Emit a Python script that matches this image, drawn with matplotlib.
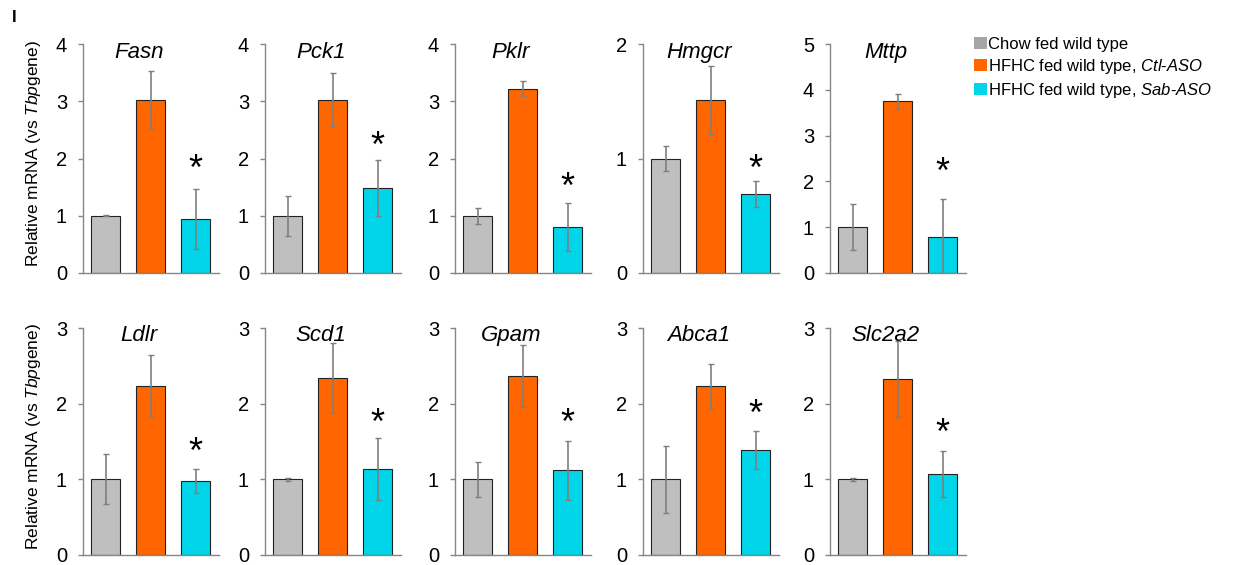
import matplotlib
matplotlib.use('Agg')
import matplotlib.pyplot as plt
from matplotlib.patches import Patch

plt.rcParams['font.family'] = ['Liberation Sans', 'DejaVu Sans']
plt.rcParams['mathtext.fontset'] = 'custom'
plt.rcParams['mathtext.rm'] = 'Liberation Sans'
plt.rcParams['mathtext.it'] = 'Liberation Sans:italic'

# datos (media y error por gen)
genes = ['Fasn', 'Pck1', 'Pklr', 'Hmgcr', 'Mttp', 'Ldlr', 'Scd1', 'Gpam', 'Abca1', 'Slc2a2']
chow_mean = [1.0, 1.0, 1.0, 1.0, 1.0, 1.0, 1.0, 1.0, 1.0, 1.0]
chow_err = [0.01, 0.35, 0.14, 0.11, 0.50, 0.33, 0.02, 0.23, 0.44, 0.02]
ctl_mean = [3.02, 3.03, 3.22, 1.51, 3.75, 2.23, 2.34, 2.37, 2.23, 2.33]
ctl_err = [0.50, 0.47, 0.13, 0.30, 0.16, 0.41, 0.46, 0.41, 0.30, 0.50]
sab_mean = [0.94, 1.48, 0.80, 0.69, 0.79, 0.98, 1.14, 1.12, 1.39, 1.07]
sab_err = [0.52, 0.49, 0.42, 0.11, 0.82, 0.16, 0.41, 0.39, 0.25, 0.30]
ymax = [4, 4, 4, 2, 5, 3, 3, 3, 3, 3]
star_y = [1.97, 2.36, 1.66, 0.985, 2.39, 1.47, 1.86, 1.86, 1.98, 1.72]

groups = ['Chow fed wild type',
          'HFHC fed wild type, $\\it{Ctl}$-$\\it{ASO}$',
          'HFHC fed wild type, $\\it{Sab}$-$\\it{ASO}$']
colors = ['#BFBFBF', '#FF6600', '#00D5EA']
legend_colors = ['#A6A6A6', '#FF6600', '#00D5EA']

W, H = 1233, 565
fig = plt.figure(figsize=(W / 100, H / 100), dpi=100)

col_left = [83, 265, 455, 643, 830]
row_top = [44, 328]
row_bottom = [273, 555]
ax_w = 136
star_fs = 26

for i, gene in enumerate(genes):
    r, c = divmod(i, 5)
    top, bot = row_top[r], row_bottom[r]
    ax = fig.add_axes([col_left[c] / W, 1 - bot / H, ax_w / W, (bot - top) / H])

    means = [chow_mean[i], ctl_mean[i], sab_mean[i]]
    errs = [chow_err[i], ctl_err[i], sab_err[i]]
    ax.bar(range(3), means, width=0.66, color=colors, edgecolor='#222222', linewidth=0.8, zorder=2)
    ax.errorbar(range(3), means, yerr=errs, fmt='none', ecolor='#7F7F7F',
                elinewidth=1.2, capsize=2.5, capthick=1.0, zorder=3)
    # el asterisco de Arial va alto en la linea, se baja para centrarlo en star_y
    ax.annotate('*', (2, star_y[i]), xytext=(0, -0.54 * star_fs), textcoords='offset points',
                ha='center', va='baseline', fontsize=star_fs, zorder=4)

    ax.set_xlim(-0.5, 2.52)
    ax.set_ylim(0, ymax[i])
    ax.set_yticks(range(ymax[i] + 1))
    ax.set_xticks([])
    for s in ['top', 'right']:
        ax.spines[s].set_visible(False)
    for s in ['left', 'bottom']:
        ax.spines[s].set_color('#868686')
        ax.spines[s].set_linewidth(1.0)
    ax.tick_params(axis='y', direction='out', length=3.5, width=1.0, color='#868686',
                   labelsize=14.5, pad=8)
    ax.text(0.41, 0.965, gene, transform=ax.transAxes, ha='center', va='center',
            fontsize=16, style='italic')

    if c == 0:
        ax.set_ylabel('Relative mRNA (vs $\\it{Tbp}$gene)', fontsize=12.5)
        ax.yaxis.set_label_coords(-0.294, 0.52)

handles = [Patch(facecolor=legend_colors[k], edgecolor='none') for k in range(3)]
fig.legend(handles, groups, loc='upper left', bbox_to_anchor=(974 / W, 1 - 37 / H),
           frameon=False, fontsize=12, handlelength=0.75, handleheight=0.75,
           handletextpad=0.1, labelspacing=0.3, borderpad=0, borderaxespad=0)

fig.text(12 / W, 1 - 18 / H, 'I', fontsize=12, fontweight='bold', va='center')

fig.savefig('out.png', dpi=100)
